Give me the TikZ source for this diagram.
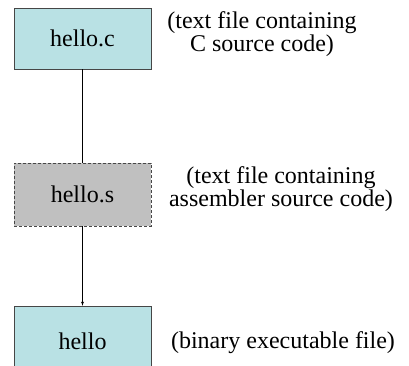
\documentclass[tikz,border=0pt]{standalone}
\usepackage{fontspec}
\setmainfont{Liberation Serif}
\usetikzlibrary{arrows}
\definecolor{filecol}{RGB}{185,225,228}
\definecolor{asmcol}{RGB}{192,192,192}
\definecolor{edgecol}{RGB}{70,70,70}
\tikzstyle{file}=[rectangle,draw=edgecol,fill=filecol,minimum width=137pt,inner sep=0pt,font=\fontsize{24}{28}\selectfont]
\tikzstyle{asm}=[file,fill=asmcol,dashed,dash pattern=on 3pt off 2pt]
\tikzstyle{note}=[align=center,inner sep=0pt,font=\fontsize{24}{23}\selectfont]
\tikzstyle{edge} = [draw,thin,-]

\begin{document}
\begin{tikzpicture}[x=1pt,y=-1pt]
      \useasboundingbox (0,0) rectangle (409,366);
      \clip (0,0) rectangle (409,366);
      \node[file,minimum height=61pt] (c) at (82.5,38.5) {hello.c};
      \node[asm,minimum height=63pt] (s) at (82.5,194.5) {hello.s};
      \node[file,minimum height=70pt] (exe) at (82.5,341) {hello};

      \node[note] (cnote) at (262,34) {(text file containing\\C source code)};
      \node[note] (snote) at (281,189) {(text file containing\\assembler source code)};
      \node[note] (exenote) at (283,343) {(binary executable file)};

      \path[edge] (c) -- (s);
      \path[edge,-latex] (s) -- (exe);

    \end{tikzpicture}
\end{document}
